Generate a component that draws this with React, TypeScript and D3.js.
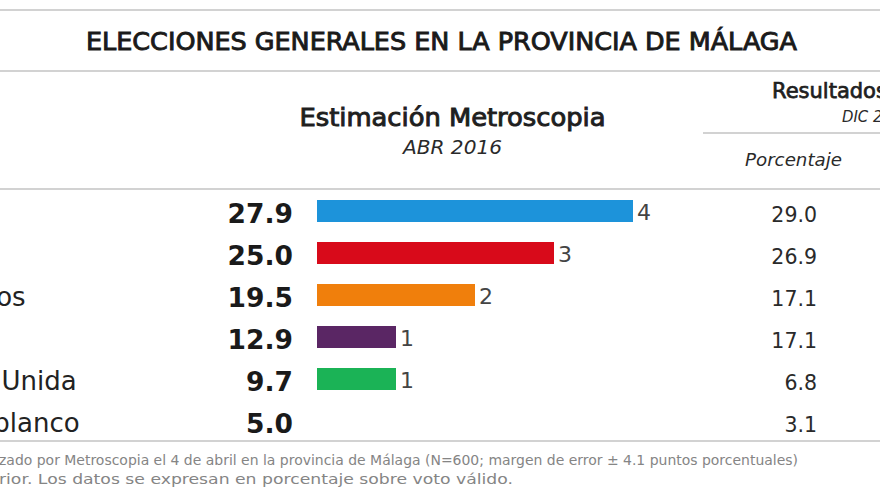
import React from "react";
import * as d3 from "d3";

const TITLE = "ELECCIONES GENERALES EN LA PROVINCIA DE MÁLAGA";
const parties = ["PP", "PSOE", "Ciudadanos", "Podemos", "Izquierda Unida", "Votos en blanco"];
const estimate = [27.9, 25.0, 19.5, 12.9, 9.7, 5.0];
const seats = [4, 3, 2, 1, 1, 0];
const previous = [29.0, 26.9, 17.1, 17.1, 6.8, 3.1];
const colors = ["#1d93da", "#d80a1a", "#f07f0c", "#5a2664", "#1bb356", "#cccccc"];
const footer = [
  "zado por Metroscopia el 4 de abril en la provincia de Málaga (N=600; margen de error ± 4.1 puntos porcentuales)",
  "rior. Los datos se expresan en porcentaje sobre voto válido.",
];

const W = 880;
const H = 495;
const FONT = "'DejaVu Sans', Verdana, sans-serif";
const FONTC = "'DejaVu Sans Condensed', 'DejaVu Sans', sans-serif";
const LINE = "#d2d2d2";

export default function App() {
  const y = d3.scaleBand<string>().domain(parties).range([190, 442]).padding(0);
  const x = d3.scaleLinear().domain([0, 4]).range([317, 633]);
  const barH = 22;
  const fmt = d3.format(".1f");

  return (
    <svg
      width={W}
      height={H}
      viewBox={`0 0 ${W} ${H}`}
      style={{ position: "absolute", left: 0, top: 0, background: "#fff" }}
    >
      <rect x={0} y={0} width={W} height={H} fill="#fff" />
      {/* horizontal rules */}
      <line x1={0} x2={W} y1={10} y2={10} stroke={LINE} strokeWidth={2} />
      <line x1={0} x2={W} y1={71} y2={71} stroke={LINE} strokeWidth={2} />
      <line x1={0} x2={W} y1={189} y2={189} stroke={LINE} strokeWidth={2} />
      <line x1={0} x2={W} y1={441} y2={441} stroke={LINE} strokeWidth={2} />
      <line x1={703} x2={W} y1={133} y2={133} stroke={LINE} strokeWidth={2} />

      {/* title */}
      <text
        x={441.5}
        y={50}
        textAnchor="middle"
        fontFamily={FONTC}
        fontWeight={400}
        fontSize={25}
        fill="#1a1a1a"
        stroke="#1a1a1a"
        strokeWidth={0.85}
        textLength={711}
        lengthAdjust="spacingAndGlyphs"
      >
        {TITLE}
      </text>

      {/* column headers */}
      <text
        x={452.5}
        y={126}
        textAnchor="middle"
        fontFamily={FONTC}
        fontWeight={400}
        fontSize={24}
        fill="#1f1f1f"
        stroke="#1f1f1f"
        strokeWidth={0.85}
        textLength={306}
        lengthAdjust="spacingAndGlyphs"
      >
        Estimación Metroscopia
      </text>
      <text
        x={452.5}
        y={154}
        textAnchor="middle"
        fontFamily={FONTC}
        fontStyle="italic"
        fontSize={19}
        fill="#2a2a2a"
        textLength={99}
        lengthAdjust="spacingAndGlyphs"
      >
        ABR 2016
      </text>
      <text
        x={772}
        y={98}
        fontFamily={FONT}
        fontWeight={400}
        fontSize={21}
        fill="#1f1f1f"
        stroke="#1f1f1f"
        strokeWidth={0.75}
      >
        Resultados
      </text>
      <text x={842} y={122} fontFamily={FONTC} fontStyle="italic" fontSize={16.5} fill="#2a2a2a">
        DIC 2015
      </text>
      <text
        x={745}
        y={166}
        fontFamily={FONTC}
        fontStyle="italic"
        fontSize={17}
        fill="#2a2a2a"
        textLength={97}
        lengthAdjust="spacingAndGlyphs"
      >
        Porcentaje
      </text>

      {/* rows */}
      {parties.map((p, i) => {
        const cy = (y(p) as number) + y.bandwidth() / 2;
        return (
          <g key={p}>
            <text x={-127} y={cy + 11} fontFamily={FONT} fontSize={26} fill="#222">
              {p}
            </text>
            <text
              x={293}
              y={cy + 12}
              textAnchor="end"
              fontFamily={FONT}
              fontWeight={700}
              fontSize={26.5}
              fill="#1a1a1a"
            >
              {fmt(estimate[i])}
            </text>
            {seats[i] > 0 && (
              <>
                <rect
                  x={x(0)}
                  y={cy - barH / 2}
                  width={x(seats[i]) - x(0)}
                  height={barH}
                  fill={colors[i]}
                />
                <text
                  x={x(seats[i]) + 4}
                  y={cy + 9}
                  fontFamily={FONT}
                  fontSize={22}
                  fill="#444"
                >
                  {seats[i]}
                </text>
              </>
            )}
            <text
              x={817}
              y={cy + 11}
              textAnchor="end"
              fontFamily={FONT}
              fontSize={20.5}
              fill="#2a2a2a"
            >
              {fmt(previous[i])}
            </text>
          </g>
        );
      })}

      {/* footer */}
      <text x={-1} y={465} fontFamily={FONT} fontSize={14} fill="#858585" textLength={799} lengthAdjust="spacingAndGlyphs">
        {footer[0]}
      </text>
      <text x={-1} y={484} fontFamily={FONT} fontSize={14} fill="#858585" textLength={514} lengthAdjust="spacingAndGlyphs">
        {footer[1]}
      </text>
    </svg>
  );
}
